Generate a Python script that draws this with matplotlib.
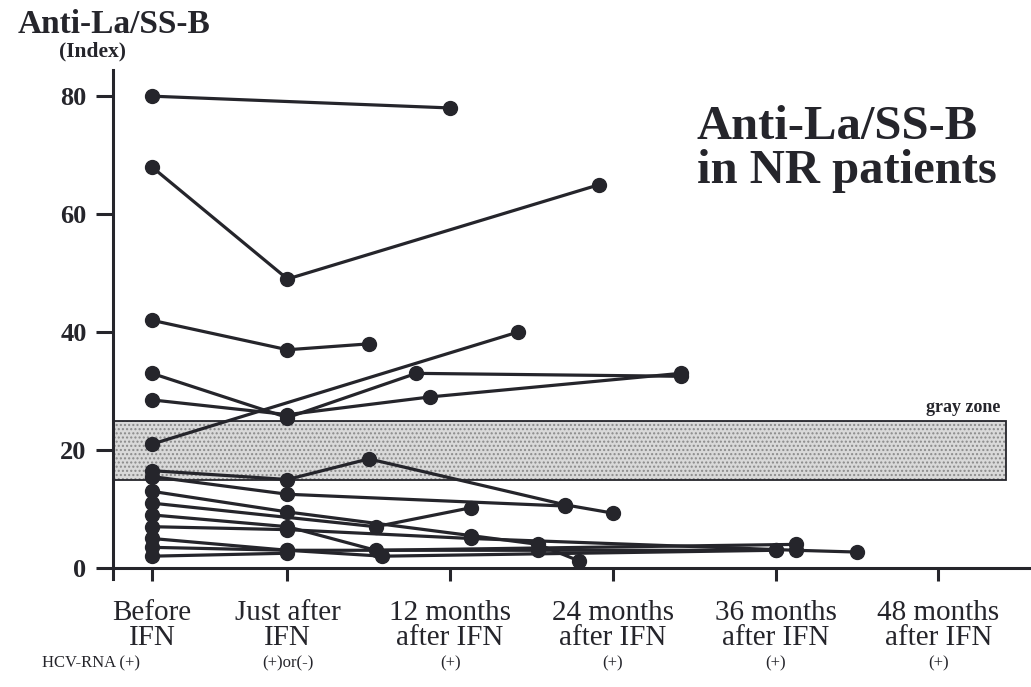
import matplotlib
matplotlib.use("Agg")
import matplotlib.pyplot as plt

plt.rcParams['font.family'] = ['Liberation Serif', 'DejaVu Serif']

# time of each visit in months relative to the end of IFN therapy
tick_months = [-10, 0, 12, 24, 36, 48]
tick_labels = ['Before\nIFN', 'Just after\nIFN', '12 months\nafter IFN',
               '24 months\nafter IFN', '36 months\nafter IFN', '48 months\nafter IFN']
hcv_labels = ['HCV-RNA (+)', '(+)or(-)', '(+)', '(+)', '(+)', '(+)']

# one entry per patient: visit months and anti-La/SS-B index
patient_months = [
    [-10, 12],
    [-10, 0, 23],
    [-10, 0, 6],
    [-10, 0, 9.5, 29],
    [-10, 0, 10.5, 29],
    [-10, 17],
    [-10, 0, 6, 20.5, 24],
    [-10, 0, 20.5],
    [-10, 0, 13.5, 18.5, 21.5],
    [-10, 6.5, 13.5],
    [-10, 0, 6.5, 37.5],
    [-10, 0, 13.5, 37.5, 42],
    [-10, 0, 7, 36],
    [-10, 0, 18.5, 36],
    [-10, 0],
]
patient_index = [
    [80, 78],
    [68, 49, 65],
    [42, 37, 38],
    [33, 25.5, 33, 32.5],
    [28.5, 26, 29, 33],
    [21, 40],
    [16.5, 15, 18.5, 10.7, 9.3],
    [15.5, 12.5, 10.5],
    [13, 9.5, 5.5, 4, 1.2],
    [11, 7, 10.2],
    [9, 7, 3, 4],
    [7, 6.5, 5, 3, 2.7],
    [5, 3, 2, 3],
    [3.5, 3, 3, 3],
    [2, 2.5],
]

gray_zone = (15, 25)

ink = '#25252b'
x_lo, x_hi = -12.87, 54.84
zone_end = (53 - x_lo) / (x_hi - x_lo)

fig = plt.figure(figsize=(10.31, 6.87), dpi=100)
ax = fig.add_axes([0.1096, 0.1578, 0.8904, 0.740])

# gray zone band: stippled fill plus a dark outline
ax.axhspan(gray_zone[0], gray_zone[1], xmin=0, xmax=zone_end,
           facecolor='#d9d9d9', edgecolor='#8a8a8a', hatch='....', lw=0, zorder=1)
ax.axhspan(gray_zone[0], gray_zone[1], xmin=0, xmax=zone_end,
           facecolor='none', edgecolor=ink, lw=1.3, zorder=1.5)
ax.text(52.6, 25.8, 'gray zone', ha='right', va='bottom', fontsize=13,
        fontweight='bold', color=ink)

for months, vals in zip(patient_months, patient_index):
    ax.plot(months, vals, color=ink, lw=2.3, marker='o', ms=10,
            solid_capstyle='round', zorder=3)

ax.set_xlim(x_lo, x_hi)
ax.set_ylim(-1.8, 84.4)

ax.spines['top'].set_visible(False)
ax.spines['right'].set_visible(False)
ax.spines['bottom'].set_position(('data', 0))
ax.spines['left'].set_linewidth(2.2)
ax.spines['bottom'].set_linewidth(2.2)
ax.spines['left'].set_color(ink)
ax.spines['bottom'].set_color(ink)

ax.set_yticks([0, 20, 40, 60, 80])
ax.tick_params(axis='y', direction='out', length=12, width=2.2, pad=7,
               labelsize=19, colors=ink)
for lab in ax.get_yticklabels():
    lab.set_fontweight('bold')

ax.set_xticks(tick_months)
ax.set_xticklabels(tick_labels, fontsize=21, linespacing=0.95)
ax.tick_params(axis='x', direction='out', length=9, width=2.2, pad=14, colors=ink)

# HCV-RNA status row under the time labels
for m, lab in zip(tick_months, hcv_labels):
    if m == tick_months[0]:
        ax.text(-10.9, -16.2, lab, ha='right', va='center', fontsize=12, color=ink)
    else:
        ax.text(m, -16.2, lab, ha='center', va='center', fontsize=12, color=ink)

fig.text(0.0175, 0.965, 'Anti-La/SS-B', ha='left', va='center', fontsize=24,
         fontweight='bold', color=ink)
fig.text(0.09, 0.925, '(Index)', ha='center', va='center', fontsize=15.5,
         fontweight='bold', color=ink)

ax.text(30.2, 78.5, 'Anti-La/SS-B\nin NR patients', ha='left', va='top',
        fontsize=35, fontweight='bold', linespacing=1.0, color=ink)

fig.savefig('out.png', dpi=100)
